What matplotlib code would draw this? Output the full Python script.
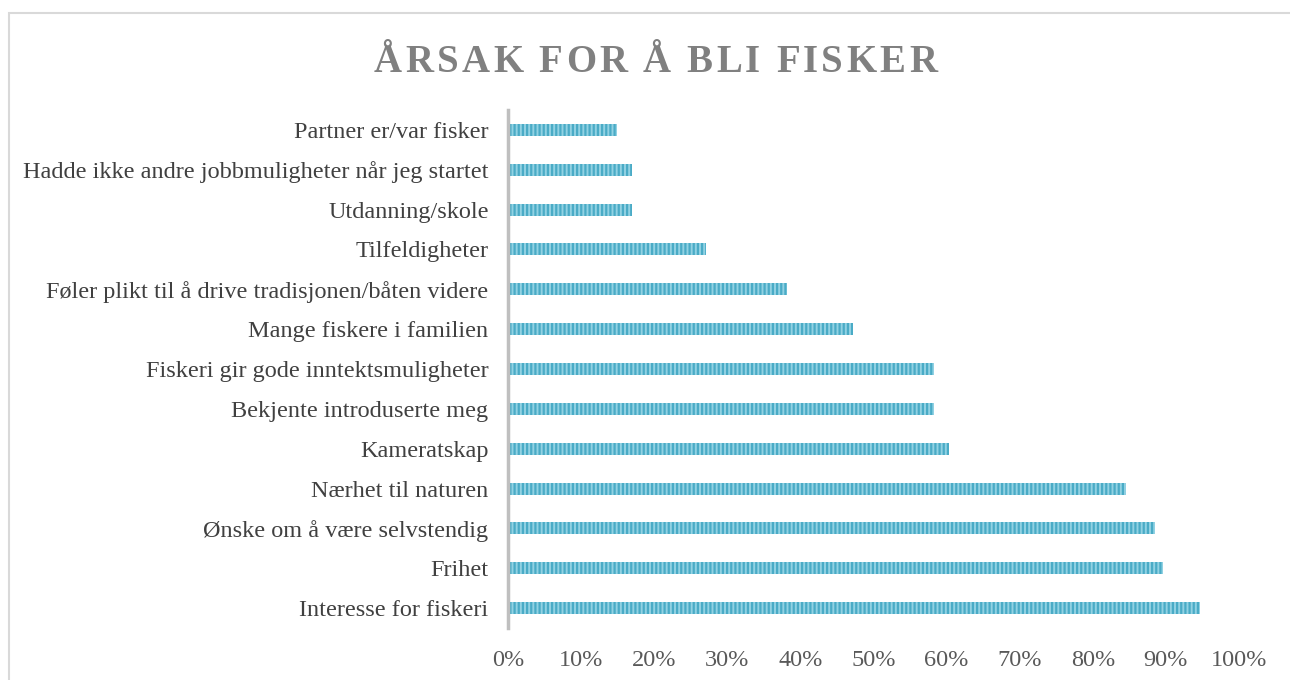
import matplotlib.pyplot as plt
from matplotlib.patches import Rectangle
from matplotlib.ticker import PercentFormatter

categories = [
    'Interesse for fiskeri',
    'Frihet',
    'Ønske om å være selvstendig',
    'Nærhet til naturen',
    'Kameratskap',
    'Bekjente introduserte meg',
    'Fiskeri gir gode inntektsmuligheter',
    'Mange fiskere i familien',
    'Føler plikt til å drive tradisjonen/båten videre',
    'Tilfeldigheter',
    'Utdanning/skole',
    'Hadde ikke andre jobbmuligheter når jeg startet',
    'Partner er/var fisker',
]
values = [94.6, 89.6, 88.5, 84.5, 60.3, 58.3, 58.3, 47.2, 38.2, 27.1, 17.0, 17.0, 14.9]
x_ticks = list(range(0, 101, 10))
title = 'ÅRSAK FOR Å BLI FISKER'

plt.rcParams['font.family'] = ['Liberation Serif', 'DejaVu Serif']
plt.rcParams['hatch.linewidth'] = 1.6

W, H = 1290, 680
fig = plt.figure(figsize=(W / 100, H / 100), dpi=100)

# outer chart frame
fig.patches.append(Rectangle((9 / W, -0.01), 1.0, 1 - 13 / H + 0.01,
                             transform=fig.transFigure, fill=False,
                             edgecolor='#d9d9d9', linewidth=1.5))

ax = fig.add_axes([508 / W, 1 - 628 / H, (1239 - 508) / W, (628 - 110) / H])
y = list(range(len(categories)))
ax.barh(y, values, height=0.3, color='#92d2e3', hatch='||||',
        edgecolor='#4aabc6', linewidth=0)

ax.set_xlim(0, 100)
ax.set_ylim(-0.5, len(categories) - 0.5)
ax.set_yticks(y)
ax.set_yticklabels(categories, fontsize=17.5, color='#404040')
ax.set_xticks(x_ticks)
ax.xaxis.set_major_formatter(PercentFormatter(decimals=0))
ax.tick_params(axis='x', length=0, labelsize=17.5, labelcolor='#595959', pad=15.5)
ax.tick_params(axis='y', length=0, pad=14)
for s in ['top', 'right', 'bottom']:
    ax.spines[s].set_visible(False)
ax.spines['left'].set_color('#bfbfbf')
ax.spines['left'].set_linewidth(2.5)

# letter-spaced title, placed one glyph at a time
renderer = fig.canvas.get_renderer()
size = 28
space_w = 9
widths = []
for ch in title:
    if ch == ' ':
        widths.append(space_w)
        continue
    t = fig.text(0, 0, ch, fontsize=size, fontweight='bold')
    widths.append(t.get_window_extent(renderer).width)
    t.remove()
spacing = max((563 - sum(widths)) / (len(title) - 1), 0)
x0 = 374
for ch, w in zip(title, widths):
    if ch != ' ':
        fig.text(x0 / W, 1 - 72 / H, ch, fontsize=size, fontweight='bold',
                 color='#808080', ha='left', va='baseline')
    x0 += w + spacing

fig.savefig('out.png', dpi=100)
